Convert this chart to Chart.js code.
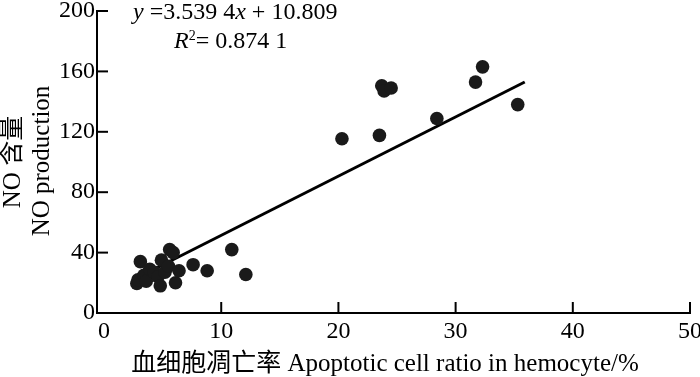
<!DOCTYPE html>
<html><head><meta charset="utf-8">
<script src="https://cdn.jsdelivr.net/npm/chart.js@4/dist/chart.umd.min.js"></script>
<style>html,body{margin:0;padding:0;background:#fff;}canvas{display:block;}</style>
</head><body>
<canvas id="c" width="700" height="377"></canvas>
<script>
// ---- data ----
const apoptosisRatio = [2.8, 2.9, 3.1, 3.4, 3.6, 3.9, 4.3, 4.6, 4.8, 4.9, 5.2, 5.5, 5.6, 5.9, 6.1, 6.4, 7.6, 8.8, 10.9, 12.1,
                        20.3, 23.5, 23.7, 23.9, 24.5, 28.4, 31.7, 32.3, 35.3];
const noProduction   = [19.5, 22, 34, 25, 21, 29, 27, 24, 18, 35, 27, 31, 42, 40, 20, 28, 32, 28, 42, 25.5,
                        115.4, 117.6, 150.5, 147, 149, 128.8, 152.9, 163, 138];
const fitX = [2.5, 35.9];
const fitY = [22, 153];
const xTicks = [0, 10, 20, 30, 40, 50];
const yTicks = [0, 40, 80, 120, 160, 200];
const xTitle = '血细胞凋亡率 Apoptotic cell ratio in hemocyte/%';
const yTitleLines = ['NO 含量', 'NO production'];
const eqParts = [['y', true], [' =3.539 4', false], ['x', true], [' + 10.809', false]];
const r2Text = ['R', '2', '= 0.874 1'];

const FONT = '"Liberation Serif", "Times New Roman", "Noto Sans CJK SC", serif';

const points = apoptosisRatio.map((v, i) => ({x: v, y: noProduction[i]}));
const fitLine = fitX.map((v, i) => ({x: v, y: fitY[i]}));

const decor = {
  id: 'decor',
  afterDatasetsDraw(chart) {
    const {ctx, chartArea, scales: {x, y}} = chart;
    ctx.save();
    ctx.strokeStyle = '#000';
    ctx.lineWidth = 2;
    x.ticks.forEach(t => {
      if (t.value === 0) return;
      const px = x.getPixelForValue(t.value);
      ctx.beginPath(); ctx.moveTo(px, chartArea.bottom); ctx.lineTo(px, chartArea.bottom - 11); ctx.stroke();
    });
    y.ticks.forEach(t => {
      if (t.value === 0) return;
      const py = y.getPixelForValue(t.value);
      ctx.beginPath(); ctx.moveTo(chartArea.left, py); ctx.lineTo(chartArea.left + 11, py); ctx.stroke();
    });
    ctx.fillStyle = '#000';
    // x title
    ctx.font = '25px ' + FONT;
    ctx.textAlign = 'center';
    ctx.textBaseline = 'alphabetic';
    ctx.fillText(xTitle, 385, 371);
    // y title
    ctx.save();
    ctx.translate(13, 162);
    ctx.rotate(-Math.PI / 2);
    ctx.textBaseline = 'middle';
    ctx.fillText(yTitleLines[0], 0, 0);
    ctx.restore();
    ctx.save();
    ctx.translate(42, 161);
    ctx.rotate(-Math.PI / 2);
    ctx.textBaseline = 'middle';
    ctx.fillText(yTitleLines[1], 0, 0);
    ctx.restore();
    // equation
    ctx.textAlign = 'left';
    ctx.textBaseline = 'alphabetic';
    let cx = 133;
    eqParts.forEach(p => {
      ctx.font = (p[1] ? 'italic ' : '') + '24px ' + FONT;
      ctx.fillText(p[0], cx, 19);
      cx += ctx.measureText(p[0]).width;
    });
    cx = 174;
    ctx.font = 'italic 24px ' + FONT;
    ctx.fillText(r2Text[0], cx, 48);
    cx += ctx.measureText(r2Text[0]).width;
    ctx.font = '14px ' + FONT;
    ctx.fillText(r2Text[1], cx, 40);
    cx += ctx.measureText(r2Text[1]).width;
    ctx.font = '24px ' + FONT;
    ctx.fillText(r2Text[2], cx, 48);
    ctx.restore();
  }
};

new Chart(document.getElementById('c'), {
  data: {
    datasets: [
      {type: 'scatter', data: points, backgroundColor: '#1a1a1a', borderWidth: 0, pointRadius: 6.8, pointHoverRadius: 6.8},
      {type: 'line', data: fitLine, borderColor: '#000', borderWidth: 3, pointRadius: 0, fill: false}
    ]
  },
  options: {
    responsive: false,
    animation: false,
    devicePixelRatio: 1,
    layout: {padding: {top: 11, right: 10, left: 0, bottom: 0}},
    plugins: {legend: {display: false}, tooltip: {enabled: false}},
    events: [],
    scales: {
      x: {
        type: 'linear', min: -0.6, max: 50,
        afterBuildTicks: a => { a.ticks = xTicks.map(v => ({value: v})); },
        afterFit: s => { s.height = 64; s.paddingLeft = 0; s.paddingRight = 0; },
        grid: {display: false, drawTicks: false},
        border: {display: true, color: '#000', width: 2},
        ticks: {color: '#000', padding: 4, maxRotation: 0, autoSkip: false, font: {family: FONT, size: 24}}
      },
      y: {
        type: 'linear', min: 0, max: 200,
        afterBuildTicks: a => { a.ticks = yTicks.map(v => ({value: v})); },
        afterFit: s => { s.width = 97; s.paddingTop = 0; s.paddingBottom = 0; },
        grid: {display: false, drawTicks: false},
        border: {display: true, color: '#000', width: 2},
        ticks: {color: '#000', padding: 2, autoSkip: false, font: {family: FONT, size: 24}}
      }
    }
  },
  plugins: [decor]
});
</script>
</body></html>
